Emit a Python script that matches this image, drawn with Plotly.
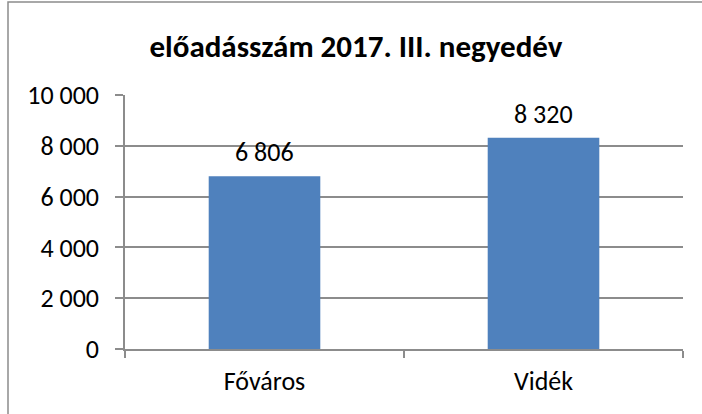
import plotly.graph_objects as go

categories = ["Főváros", "Vidék"]
values = [6806, 8320]
y_ticks = [0, 2000, 4000, 6000, 8000, 10000]
y_tick_labels = ["0", "2 000", "4 000", "6 000", "8 000", "10 000"]
value_labels = ["6 806", "8 320"]
title_text = "előadásszám 2017. III. negyedév"

W, H = 702, 414
L, R, T, B = 125, 19, 95, 65
FONT = "Carlito, Calibri, Lato, sans-serif"

fig = go.Figure()
fig.add_trace(go.Bar(x=categories, y=values, marker_color="#4F81BD",
                     marker_line_width=0, width=0.4, hoverinfo="skip"))

for c, v, t in zip(categories, values, value_labels):
    fig.add_annotation(x=c, y=v, text=t, showarrow=False, yanchor="bottom",
                       yshift=6, font=dict(size=26, color="#000000", family=FONT))

pw, ph = W - L - R, H - T - B
fig.add_shape(type="rect", xref="paper", yref="paper",
              x0=(8 - L) / pw, x1=(W + 5 - L) / pw,
              y0=(H - (H + 5) - B) / ph, y1=(H - 2 - B) / ph,
              line=dict(color="#8C8C8C", width=1.5), layer="below")

fig.update_layout(
    width=W, height=H,
    margin=dict(l=L, r=R, t=T, b=B),
    paper_bgcolor="white", plot_bgcolor="white",
    showlegend=False,
    title=dict(text="<b>" + title_text + "</b>", x=(356) / W, xanchor="center",
               y=1 - 46 / H, yanchor="middle",
               font=dict(size=31, color="#000000", family=FONT)),
    font=dict(family=FONT, color="#000000"),
    bargap=0.6,
)
fig.update_yaxes(range=[0, 10000], tickvals=y_ticks, ticktext=y_tick_labels,
                 showgrid=True, gridcolor="#8C8C8C", gridwidth=1.5,
                 showline=True, linecolor="#8C8C8C", linewidth=1.5,
                 ticks="outside", ticklen=8, tickcolor="#8C8C8C", tickwidth=1.5,
                 tickfont=dict(size=26, family=FONT), zeroline=False, ticklabelstandoff=11)
fig.update_xaxes(showline=True, linecolor="#8C8C8C", linewidth=1.5,
                 ticks="outside", ticklen=7, tickcolor="#8C8C8C", tickwidth=1.5,
                 tickson="boundaries", showgrid=False,
                 tickfont=dict(size=26, family=FONT), ticklabelstandoff=8)

fig.write_html("out.html", config={"displayModeBar": False},
               post_script="document.body.style.margin='0';document.body.style.overflow='hidden';")
